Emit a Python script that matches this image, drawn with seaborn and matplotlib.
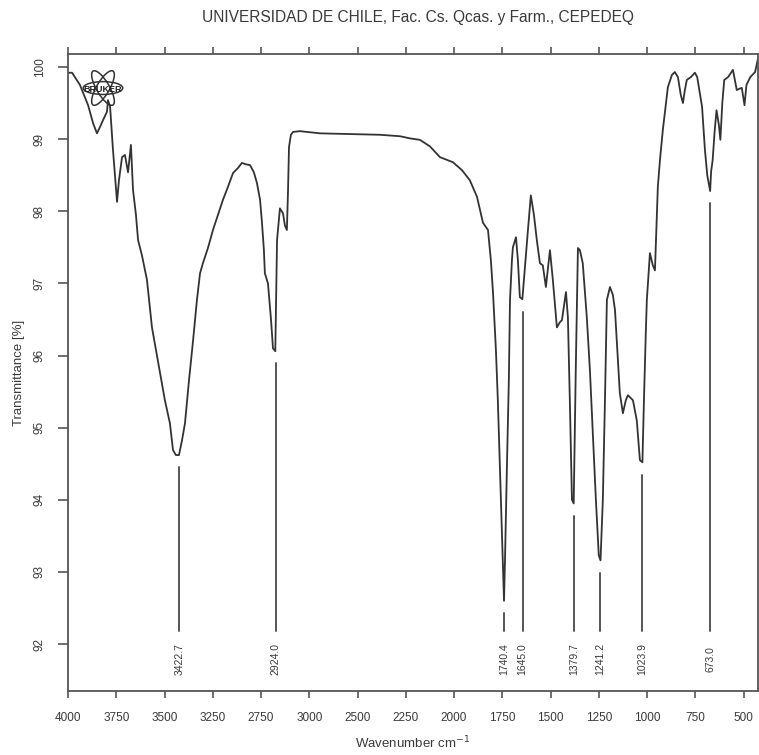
import matplotlib
matplotlib.use("Agg")
import matplotlib.pyplot as plt
from matplotlib.patches import Ellipse
import numpy as np
import pandas as pd
import seaborn as sns

# IR spectrum (wavenumber in cm-1, transmittance in %)
wavenumber = [
    4000, 3979, 3938, 3896, 3870, 3850, 3834, 3819, 3798, 3793, 3782, 3767, 3746, 3736,
    3720, 3705, 3689, 3674, 3663, 3648, 3637, 3617, 3591, 3565, 3523, 3498, 3472, 3456,
    3441, 3425, 3409, 3394, 3373, 3352, 3332, 3316, 3301, 3275, 3249, 3223, 3197, 3171,
    3145, 3119, 3099, 3078, 3057, 3037, 3021, 3005, 2995, 2985, 2980, 2964, 2948, 2938,
    2926, 2917, 2902, 2886, 2876, 2866, 2860, 2855, 2845, 2834, 2798, 2695, 2539, 2384,
    2280, 2228, 2177, 2125, 2073, 2006, 1959, 1918, 1881, 1850, 1824, 1809, 1798, 1783,
    1773, 1757, 1741, 1736, 1726, 1716, 1710, 1700, 1695, 1679, 1669, 1659, 1646, 1638,
    1633, 1617, 1602, 1586, 1571, 1555, 1540, 1524, 1503, 1488, 1467, 1452, 1441, 1420,
    1410, 1400, 1389, 1380, 1369, 1358, 1348, 1333, 1312, 1296, 1281, 1265, 1250, 1241,
    1229, 1218, 1208, 1192, 1177, 1166, 1151, 1141, 1125, 1110, 1099, 1073, 1053, 1037,
    1024, 1016, 1006, 1001, 985, 970, 959, 944, 933, 918, 892, 871, 856, 840, 825, 814,
    804, 794, 773, 752, 740, 715, 700, 688, 673, 668, 660, 650, 640, 628, 620, 610, 600,
    580, 555, 535, 520, 509, 495, 485, 465, 440, 425,
]
transmittance = [
    99.92, 99.92, 99.75, 99.47, 99.22, 99.08, 99.17, 99.26, 99.38, 99.54, 99.45, 98.85,
    98.13, 98.43, 98.75, 98.78, 98.54, 98.92, 98.29, 97.95, 97.60, 97.39, 97.05, 96.39,
    95.76, 95.38, 95.06, 94.69, 94.62, 94.62, 94.83, 95.06, 95.66, 96.21, 96.77, 97.14,
    97.28, 97.49, 97.74, 97.95, 98.16, 98.34, 98.53, 98.60, 98.67, 98.65, 98.64, 98.54,
    98.39, 98.16, 97.84, 97.46, 97.14, 97.00, 96.49, 96.10, 96.06, 97.60, 98.04, 97.97,
    97.80, 97.74, 98.29, 98.89, 99.06, 99.10, 99.11, 99.08, 99.07, 99.06, 99.04, 99.01,
    98.99, 98.90, 98.75, 98.68, 98.57, 98.43, 98.20, 97.84, 97.74, 97.32, 96.87, 96.08,
    95.38, 94.00, 92.60, 93.16, 94.45, 95.66, 96.77, 97.32, 97.50, 97.64, 97.32, 96.81,
    96.78, 97.05, 97.23, 97.74, 98.22, 97.95, 97.60, 97.28, 97.25, 96.95, 97.46, 97.05,
    96.39, 96.46, 96.49, 96.88, 96.53, 95.38, 94.00, 93.95, 95.84, 97.49, 97.46, 97.28,
    96.53, 95.80, 94.92, 94.00, 93.23, 93.16, 94.00, 95.38, 96.77, 96.95, 96.84, 96.63,
    95.94, 95.48, 95.20, 95.38, 95.45, 95.38, 95.10, 94.55, 94.52, 95.38, 96.35, 96.77,
    97.42, 97.25, 97.18, 98.34, 98.71, 99.13, 99.72, 99.89, 99.93, 99.86, 99.61, 99.50,
    99.68, 99.82, 99.86, 99.92, 99.86, 99.45, 98.85, 98.50, 98.28, 98.55, 98.71, 99.10,
    99.40, 99.20, 98.99, 99.50, 99.82, 99.86, 99.96, 99.68, 99.70, 99.71, 99.47, 99.75,
    99.86, 99.93, 100.12,
]

# labelled peaks
peak_wn = [3422.7, 2924.0, 1740.4, 1645.0, 1379.7, 1241.2, 1023.9, 673.0]
peak_t = [94.62, 96.06, 92.60, 96.78, 93.95, 93.16, 94.52, 98.28]
peak_labels = ["3422.7", "2924.0", "1740.4", "1645.0", "1379.7", "1241.2", "1023.9", "673.0"]

xtick_pos = [4000, 3750, 3500, 3250, 3000, 2750, 2500, 2250, 2000, 1750, 1500, 1250, 1000, 750, 500]
xtick_text = ["4000", "3750", "3500", "3250", "2750", "3000", "2500", "2250", "2000",
              "1750", "1500", "1250", "1000", "750", "500"]
ytick_pos = [92, 93, 94, 95, 96, 97, 98, 99, 100]

sns.set_theme(style="white")
plt.rcParams["font.family"] = ["Liberation Sans", "DejaVu Sans"]
ink = "#3a3a3a"

fig = plt.figure(figsize=(7.59, 7.55), dpi=100)
ax = fig.add_axes([0.0896, 0.0848, 0.9091, 0.8437])

df = pd.DataFrame({"wn": wavenumber, "T": transmittance})
sns.lineplot(data=df, x="wn", y="T", sort=False, estimator=None, color="#333333", lw=1.3, ax=ax)

for wn, t, lab in zip(peak_wn, peak_t, peak_labels):
    ax.plot([wn, wn], [t - 0.17, 92.18], color="#555555", lw=1.4)
    ax.text(wn, 91.79, lab, rotation=90, ha="center", va="center", fontsize=7.5, color=ink)

ax.set_xlim(4000, 425)
ax.set_ylim(91.35, 100.18)
ax.set_xticks(xtick_pos)
ax.set_xticklabels(xtick_text)
ax.set_yticks(ytick_pos)
ax.set_yticklabels([str(v) for v in ytick_pos], rotation=90, va="center")
ax.tick_params(axis="x", which="both", bottom=True, top=True, direction="out", length=5,
               width=1.2, color="#555555", labelsize=8.5, labelcolor=ink, pad=10)
ax.tick_params(axis="y", left=True, right=False, direction="out", length=7, width=1.2,
               color="#555555", labelsize=8.5, labelcolor=ink, pad=9)
for s in ax.spines.values():
    s.set_color("#555555")
    s.set_linewidth(1.3)

ax.set_xlabel("Wavenumber cm$^{-1}$", fontsize=9.5, color=ink, labelpad=8)
ax.set_ylabel("Transmittance [%]", fontsize=9.5, color=ink, labelpad=6)
fig.text(0.550, 0.977, "UNIVERSIDAD DE CHILE, Fac. Cs. Qcas. y Farm., CEPEDEQ",
         ha="center", va="center", fontsize=11.2, color=ink)

# small BRUKER logo in the corner
for ang in (0, 60, -60):
    fig.patches.append(Ellipse((0.1357, 0.8834), 0.052, 0.017, angle=ang, fill=False,
                               ec="#333333", lw=1.1, transform=fig.transFigure))
fig.text(0.1357, 0.8820, "BRUKER", ha="center", va="center", fontsize=6.5,
         fontweight="bold", color="#222222")

fig.savefig("out.png", dpi=100)
